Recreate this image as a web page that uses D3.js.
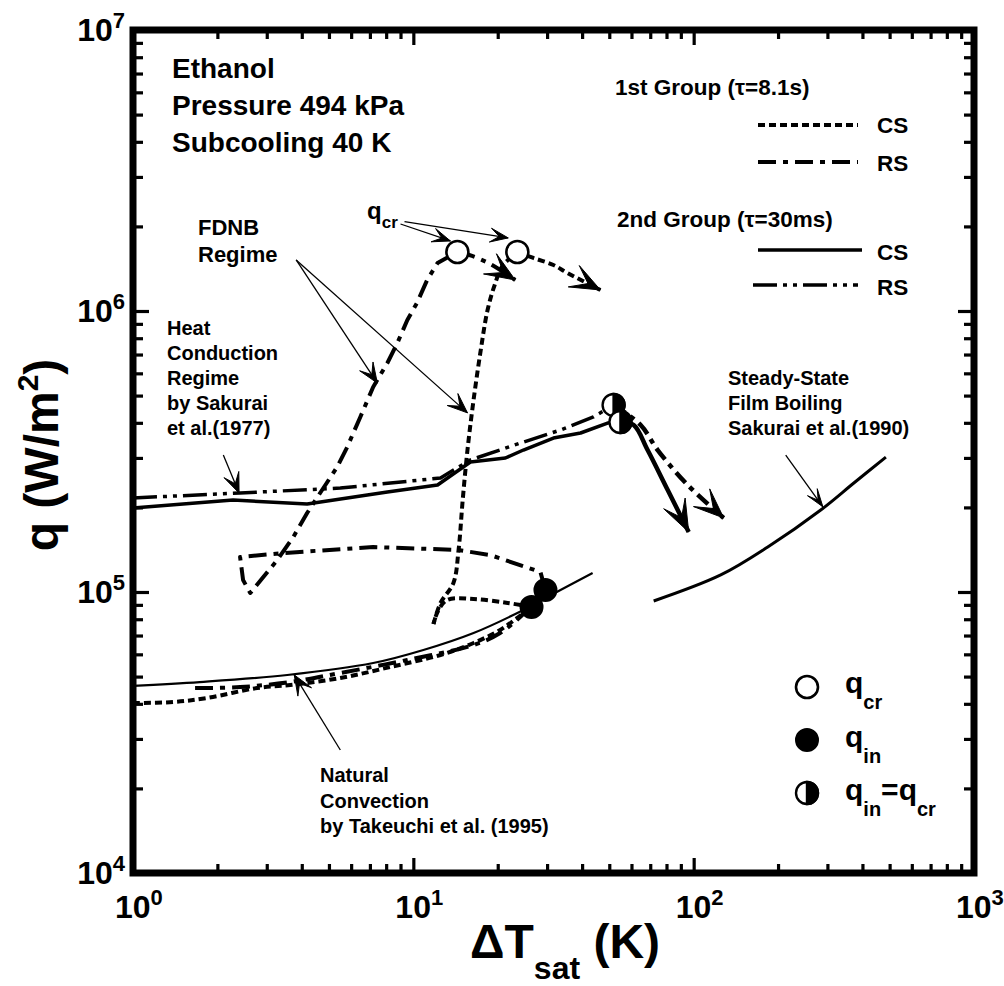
<!DOCTYPE html>
<html><head><meta charset="utf-8">
<script src="https://cdn.jsdelivr.net/npm/d3@7"></script>
<style>
body{margin:0;background:#fff}
svg{display:block}
text{font-family:"Liberation Sans",Arial,Helvetica,sans-serif;font-weight:bold;fill:#000}
</style></head><body>
<svg id="chart" width="1004" height="986"></svg>
<script>
// ---- axis setup ----
const xDomain = [1, 1000];
const yDomain = [1e4, 1e7];
const xMajorTicks = [1, 10, 100, 1000];
const yMajorTicks = [1e4, 1e5, 1e6, 1e7];
const xTickExponents = ["0", "1", "2", "3"];
const yTickExponents = ["4", "5", "6", "7"];

// ---- measured curves: [ΔTsat (K), q (W/m²)] ----
// 1st group (τ = 8.1 s), CS
const firstCSNatural = [[1.0,40270],[1.39,40600],[1.84,41960],[2.77,45520],[3.64,46680],[5.49,49420],[8.27,54080],[12.5,59690],[16.4,65850],[20.4,73270],[23.7,81470],[26.4,88460]];
const firstCSIncipience = [[26.4,88460],[21.7,91400],[16.4,94420],[13.2,93660],[12.2,84880],[11.8,76920]];
const firstCSFdnb = [[11.8,76920],[12.5,91400],[13.9,107700],[14.5,141100],[15.0,212500],[15.6,320100],[16.4,482300],[17.4,726500],[18.4,1008000],[19.5,1237000],[20.8,1446000],[23.5,1622000]];
const firstCSAfterCHF = [[23.5,1622000],[26.8,1544000],[31.6,1458000],[35.5,1365000],[46.5,1188000]];
// 1st group (τ = 8.1 s), RS
const firstRSNatural = [[1.665,45520],[2.41,45890],[3.64,47820],[5.49,51500],[9.52,57290],[16.4,64780],[20.4,71450],[25.1,84880],[29.6,101700]];
const firstRSFdnb = [[29.6,101700],[28.4,117800],[18.8,135400],[14.4,141100],[7.19,144600],[3.43,137600],[2.41,133200],[2.47,110300],[2.62,99180],[3.27,129900],[3.73,156900],[4.18,191000],[4.65,225100],[5.35,278500],[5.81,328100],[6.47,419600],[7.19,536300],[8.08,653100],[8.77,769200],[9.52,928900],[10.3,1068000],[11.2,1289000],[12.2,1482000],[14.36,1622000]];
const firstRSAfterCHF = [[14.36,1622000],[16.2,1570000],[18.8,1470000],[23.1,1289000]];
// 2nd group (τ = 30 ms), CS
const secondCS = [[1.0,199100],[2.275,212500],[4.18,205700],[8.08,226800],[12.2,240300],[15.98,290200],[21.3,299800],[24.7,320100],[31.6,353200],[39.5,368000],[49.3,399300],[54.8,402700]];
const secondCSAfterCHF = [[54.8,402700],[61.1,392900],[68.5,320100],[80.8,230700],[96.0,163500]];
// 2nd group (τ = 30 ms), RS
const secondRS = [[1.0,216100],[2.41,225100],[5.49,234400],[12.5,254500],[15.98,295100],[24.1,338900],[33.5,377200],[43.9,419600],[51.8,463100]];
const secondRSAfterCHF = [[51.8,463100],[64.7,392900],[74.4,320100],[95.2,240300],[128,183400]];
// correlations
const naturalConvection = [[1.0,46300],[1.73,47800],[3.55,50660],[7.19,55870],[10.86,62170],[16.4,71450],[24.7,86290],[33.5,101600],[43.6,116800]];
const filmBoiling = [[72.0,92900],[124.9,115000],[183.8,144600],[284,195800],[372.7,244300],[485,302100]];

// ---- marked points ----
const qcrPoints = [[14.36,1622000],[23.5,1622000]];
const qinPoints = [[26.4,88460],[29.6,101700]];
const qinEqualQcrPoints = [[51.8,463100],[54.8,402700]];

// ---- annotation pointers: [from, to] in data units ----
const pointerQcr = [[[9.0,2.04e6],[13.56,1.775e6]],[[9.3,2.08e6],[21.8,1.82e6]]];
const pointerFdnb = [[[3.82,1.52e6],[7.44,5.54e5]],[[3.82,1.52e6],[15.6,4.34e5]]];
const pointerConduction = [[[2.10,3.07e5],[2.39,2.25e5]]];
const pointerNatural = [[[5.49,2.74e4],[3.76,5.07e4]]];
const pointerFilm = [[[213,3.07e5],[289,2.01e5]]];

// ---- styles ----
const styleCS1 = {dash:"7,4", w:4};
const styleRS1 = {dash:"18,7,5,7", w:4};
const styleCS2 = {dash:null, w:3.5};
const styleRS2 = {dash:"24,6,4,6,4,6", w:3.5};

const svg = d3.select("#chart");
const x = d3.scaleLog().domain(xDomain).range([133, 974]);
const y = d3.scaleLog().domain(yDomain).range([873, 30]);

const line = d3.line().x(d => x(d[0])).y(d => y(d[1]));
const smooth = d3.line().x(d => x(d[0])).y(d => y(d[1])).curve(d3.curveCatmullRom.alpha(0.5));

const plot = svg.append("g");

function drawCurve(data, st, gen) {
  const p = plot.append("path").datum(data)
    .attr("d", gen || line)
    .attr("fill", "none").attr("stroke", "#000")
    .attr("stroke-width", st.w)
    .attr("stroke-linejoin", "round");
  if (st.dash) p.attr("stroke-dasharray", st.dash);
  return p;
}

// filled barbed arrowhead at the end of a segment (pixel space)
function arrowHead(p0, p1, len, half, inset) {
  const dx = p1[0] - p0[0], dy = p1[1] - p0[1];
  const L = Math.hypot(dx, dy);
  const ux = dx / L, uy = dy / L, nx = -uy, ny = ux;
  const t = p1;
  const bl = [t[0] - len*ux + half*nx, t[1] - len*uy + half*ny];
  const br = [t[0] - len*ux - half*nx, t[1] - len*uy - half*ny];
  const nt = [t[0] - (len - inset)*ux, t[1] - (len - inset)*uy];
  plot.append("path")
    .attr("d", `M${t}L${bl}L${nt}L${br}Z`)
    .attr("fill", "#000").attr("stroke", "#000").attr("stroke-width", 1)
    .attr("stroke-linejoin", "miter");
}

function curveArrow(data, len, half, inset) {
  const n = data.length;
  const p0 = [x(data[n-2][0]), y(data[n-2][1])];
  const p1 = [x(data[n-1][0]), y(data[n-1][1])];
  arrowHead(p0, p1, len, half, inset);
}

// ---- correlation curves ----
drawCurve(naturalConvection, {dash:null, w:2.2}, smooth);
drawCurve(filmBoiling, {dash:null, w:3}, smooth);

// ---- 1st group ----
drawCurve(firstCSNatural, styleCS1, smooth);
drawCurve(firstCSIncipience, styleCS1, smooth);
drawCurve(firstCSFdnb, styleCS1, smooth);
drawCurve(firstCSAfterCHF, styleCS1, smooth);
curveArrow(firstCSAfterCHF, 30, 12, 16);

drawCurve(firstRSNatural, styleRS1, smooth);
drawCurve(firstRSFdnb, styleRS1, line);
drawCurve(firstRSAfterCHF, styleRS1, smooth);
curveArrow(firstRSAfterCHF, 30, 12, 16);

// ---- 2nd group ----
drawCurve(secondRS, styleRS2, line);
drawCurve(secondCS, styleCS2, line);
drawCurve(secondRSAfterCHF, {dash:"14,6,5,6", w:4.5}, smooth);
curveArrow(secondRSAfterCHF, 30, 12, 16);
drawCurve(secondCSAfterCHF, {dash:null, w:4.5}, smooth);
curveArrow(secondCSAfterCHF, 32, 12, 16);

// ---- markers ----
const R = 11;
function openCircle(cx, cy) {
  svg.append("circle").attr("cx", cx).attr("cy", cy).attr("r", R)
    .attr("fill", "#fff").attr("stroke", "#000").attr("stroke-width", 2.6);
}
function filledCircle(cx, cy) {
  svg.append("circle").attr("cx", cx).attr("cy", cy).attr("r", R)
    .attr("fill", "#000").attr("stroke", "#000").attr("stroke-width", 2);
}
function halfCircle(cx, cy) {
  svg.append("circle").attr("cx", cx).attr("cy", cy).attr("r", R)
    .attr("fill", "#fff").attr("stroke", "#000").attr("stroke-width", 2.4);
  svg.append("path")
    .attr("d", `M${cx},${cy - R}A${R},${R} 0 0 1 ${cx},${cy + R}Z`)
    .attr("fill", "#000").attr("stroke", "#000").attr("stroke-width", 2.4);
}
qcrPoints.forEach(d => openCircle(x(d[0]), y(d[1])));
qinPoints.forEach(d => filledCircle(x(d[0]), y(d[1])));
qinEqualQcrPoints.forEach(d => halfCircle(x(d[0]), y(d[1])));

// ---- annotation pointers ----
function pointer(list, len, half, inset) {
  list.forEach(([a, b]) => {
    const p0 = [x(a[0]), y(a[1])], p1 = [x(b[0]), y(b[1])];
    svg.append("line").attr("x1", p0[0]).attr("y1", p0[1]).attr("x2", p1[0]).attr("y2", p1[1])
      .attr("stroke", "#000").attr("stroke-width", 1.3);
    arrowHead(p0, p1, len, half, inset);
  });
}
pointer(pointerQcr, 18, 7, 9);
pointer(pointerFdnb, 20, 8, 10);
pointer(pointerConduction, 20, 8, 10);
pointer(pointerNatural, 20, 8, 10);
pointer(pointerFilm, 18, 6, 10);

// ---- frame and ticks ----
const xMinor = [], yMinor = [];
for (let d = 1; d < 1000; d *= 10) for (let k = 2; k <= 9; k++) xMinor.push(d * k);
for (let d = 1e4; d < 1e7; d *= 10) for (let k = 2; k <= 9; k++) yMinor.push(d * k);

function tickAxis(axisFn, scale, vals, size, transform) {
  const g = svg.append("g").attr("transform", transform)
    .call(axisFn(scale).tickValues(vals).tickSize(size).tickFormat(""));
  g.select(".domain").remove();
  g.selectAll(".tick line").attr("stroke", "#000").attr("stroke-width", 3.2);
}
tickAxis(d3.axisBottom, x, xMinor, -9, "translate(0,873)");
tickAxis(d3.axisBottom, x, xMajorTicks, -15, "translate(0,873)");
tickAxis(d3.axisTop, x, xMinor, -9, "translate(0,30)");
tickAxis(d3.axisTop, x, xMajorTicks, -15, "translate(0,30)");
tickAxis(d3.axisLeft, y, yMinor, -10, "translate(133,0)");
tickAxis(d3.axisLeft, y, yMajorTicks, -16, "translate(133,0)");
tickAxis(d3.axisRight, y, yMinor, -10, "translate(974,0)");
tickAxis(d3.axisRight, y, yMajorTicks, -16, "translate(974,0)");

svg.append("rect").attr("x", 133).attr("y", 30).attr("width", 841).attr("height", 843)
  .attr("fill", "none").attr("stroke", "#000").attr("stroke-width", 7);

// ---- tick labels ----
xMajorTicks.forEach((v, i) => {
  const t = svg.append("text").attr("x", x(v) - 18).attr("y", 918).attr("font-size", 32);
  t.append("tspan").text("10");
  t.append("tspan").attr("font-size", 22).attr("dy", -13).text(xTickExponents[i]);
});
yMajorTicks.forEach((v, i) => {
  const t = svg.append("text").attr("x", 125).attr("y", y(v) + 11).attr("font-size", 32)
    .attr("text-anchor", "end");
  t.append("tspan").text("10");
  t.append("tspan").attr("font-size", 22).attr("dy", -13).text(yTickExponents[i]);
});

// ---- axis titles ----
const xt = svg.append("text").attr("x", 470).attr("y", 958).attr("font-size", 48);
xt.append("tspan").text("ΔT");
xt.append("tspan").attr("font-size", 32).attr("dy", 21).text("sat");
xt.append("tspan").attr("dy", -21).text(" (K)");

const yt = svg.append("text").attr("transform", "translate(58,455) rotate(-90)")
  .attr("text-anchor", "middle").attr("font-size", 48);
yt.append("tspan").text("q (W/m");
yt.append("tspan").attr("font-size", 30).attr("dy", -20).text("2");
yt.append("tspan").attr("dy", 20).text(")");

// ---- condition block ----
[["Ethanol", 78], ["Pressure 494 kPa", 115], ["Subcooling 40 K", 152]].forEach(([s, yy]) =>
  svg.append("text").attr("x", 172).attr("y", yy).attr("font-size", 28).text(s));

// ---- line-style legend ----
const lg = [
  {label:"1st Group (τ=8.1s)", x:615, y:95},
  {label:"2nd Group (τ=30ms)", x:617, y:227}
];
lg.forEach(d => svg.append("text").attr("x", d.x).attr("y", d.y).attr("font-size", 22.5).text(d.label));
const lgLines = [
  {st:styleCS1, x1:758, x2:858, y:125, name:"CS", ty:133},
  {st:styleRS1, x1:758, x2:858, y:162, name:"RS", ty:171},
  {st:styleCS2, x1:758, x2:862, y:250, name:"CS", ty:260},
  {st:styleRS2, x1:753, x2:858, y:285, name:"RS", ty:295}
];
lgLines.forEach(d => {
  const l = svg.append("line").attr("x1", d.x1).attr("x2", d.x2).attr("y1", d.y).attr("y2", d.y)
    .attr("stroke", "#000").attr("stroke-width", d.st.w);
  if (d.st.dash) l.attr("stroke-dasharray", d.st.dash);
  svg.append("text").attr("x", 877).attr("y", d.ty).attr("font-size", 22.5).text(d.name);
});

// ---- marker legend ----
openCircle(807, 687);
filledCircle(807, 740);
halfCircle(807, 793);
function qLabel(xx, yy, parts) {
  const t = svg.append("text").attr("x", xx).attr("y", yy).attr("font-size", 30);
  let down = false;
  parts.forEach(p => {
    const sub = p.sub;
    const ts = t.append("tspan").text(p.t);
    if (sub && !down) { ts.attr("font-size", 20).attr("dy", 16); down = true; }
    else if (!sub && down) { ts.attr("dy", -16); down = false; }
    else if (sub) ts.attr("font-size", 20);
  });
}
qLabel(845, 693, [{t:"q"}, {t:"cr", sub:true}]);
qLabel(845, 747, [{t:"q"}, {t:"in", sub:true}]);
qLabel(845, 800, [{t:"q"}, {t:"in", sub:true}, {t:"=q"}, {t:"cr", sub:true}]);

// ---- annotations ----
const qa = svg.append("text").attr("x", 367).attr("y", 219).attr("font-size", 24);
qa.append("tspan").text("q");
qa.append("tspan").attr("font-size", 17).attr("dy", 9).text("cr");

function block(lines, xx, y0, dy, size) {
  lines.forEach((s, i) => svg.append("text").attr("x", xx).attr("y", y0 + i*dy)
    .attr("font-size", size).text(s));
}
block(["FDNB", "Regime"], 198, 235, 27, 22);
block(["Heat", "Conduction", "Regime", "by Sakurai", "et al.(1977)"], 167, 335, 25, 20);
block(["Steady-State", "Film Boiling", "Sakurai et al.(1990)"], 728, 385, 25, 20);
block(["Natural", "Convection", "by Takeuchi et al. (1995)"], 320, 782, 25.5, 20);
</script>
</body></html>
